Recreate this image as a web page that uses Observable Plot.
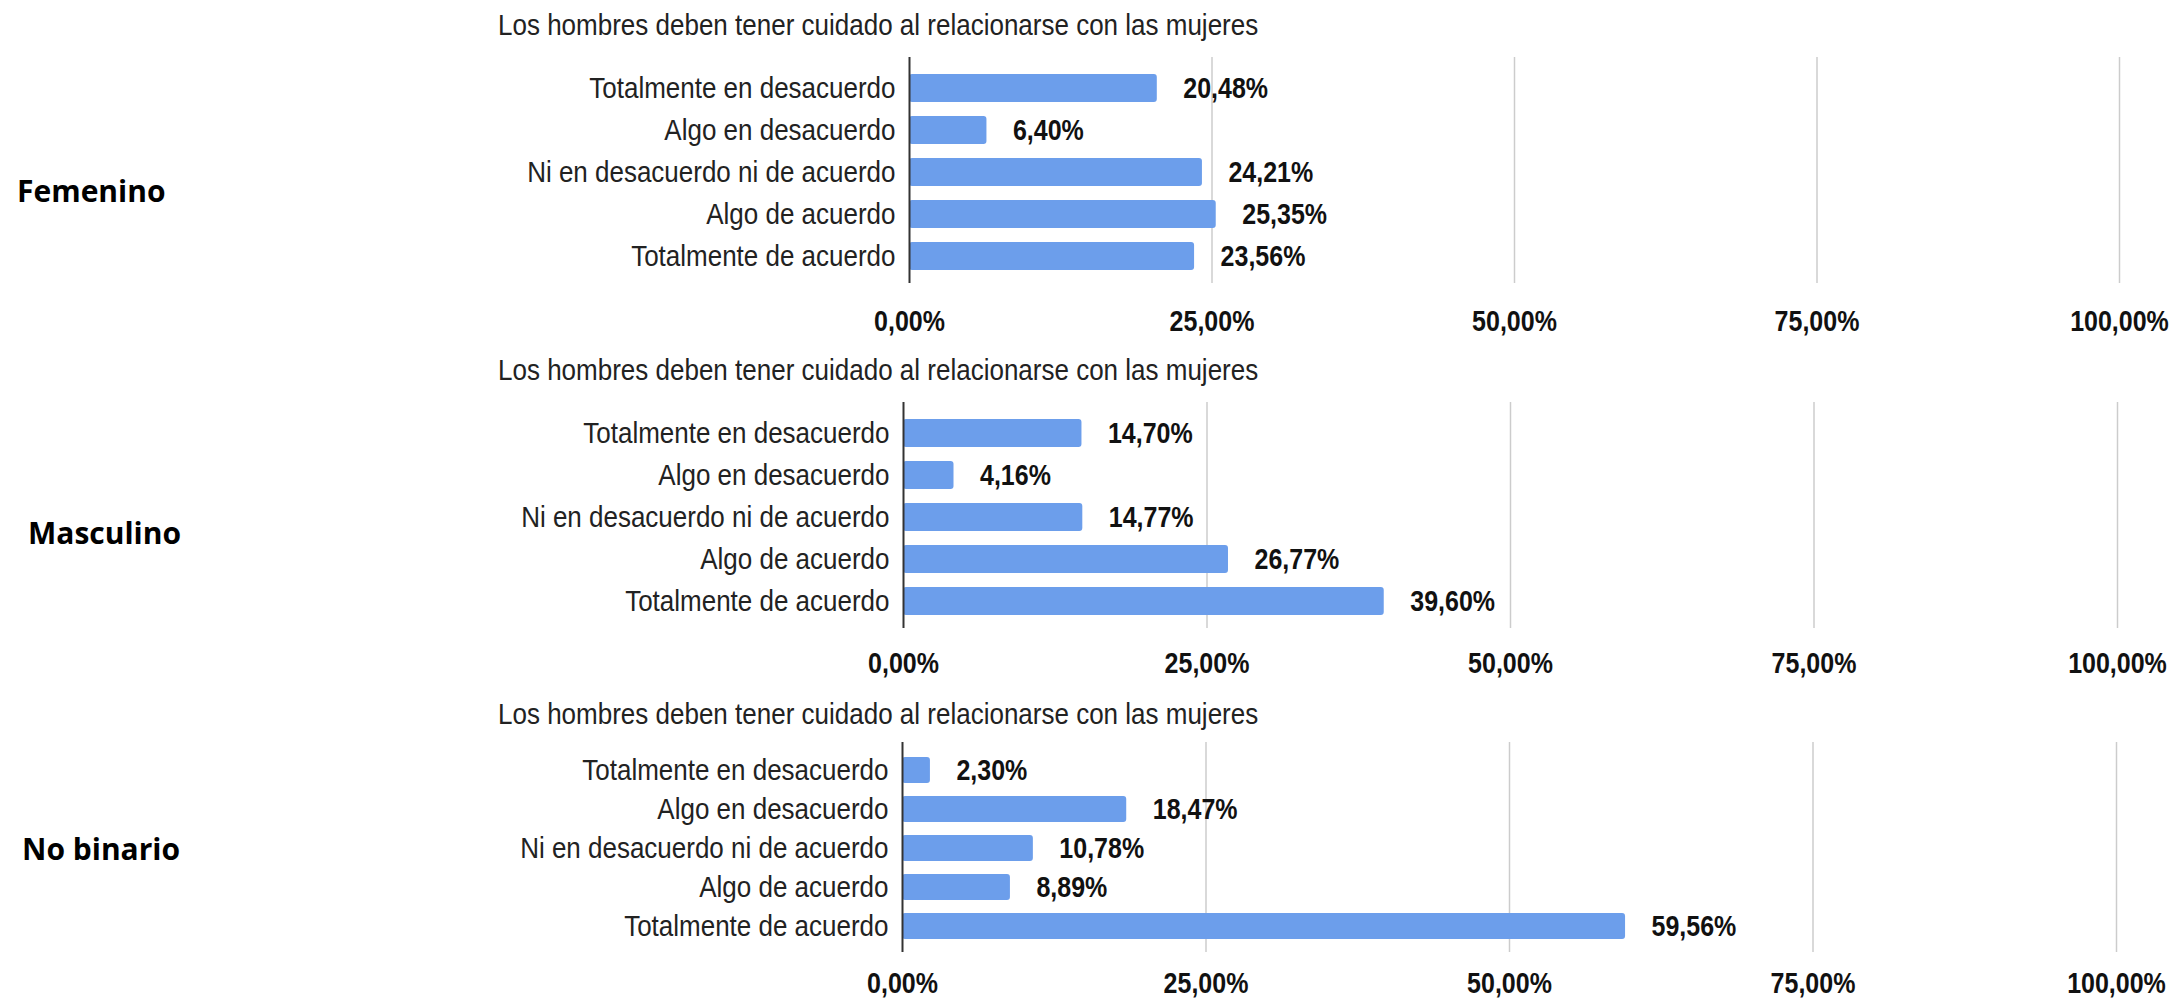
<!DOCTYPE html>
<html>
<head>
<meta charset="utf-8">
<script src="https://cdn.jsdelivr.net/npm/d3@7"></script>
<script src="https://cdn.jsdelivr.net/npm/@observablehq/plot@0.6"></script>
<style>
  html, body { margin: 0; padding: 0; background: #fff; overflow: hidden; }
  #root { position: relative; width: 2170px; height: 998px; background: #fff; }
  .panel { position: absolute; left: 0; }
  .title { position: absolute; font-family: 'Liberation Sans', Arial, sans-serif; font-size: 26px; line-height: 1; color: #222; white-space: nowrap; transform: scaleY(1.15); transform-origin: 0 50%; }
  .group { position: absolute; font-family: 'Open Sans', sans-serif; font-weight: 700; font-size: 30px; line-height: 1; color: #000; white-space: nowrap; }
</style>
</head>
<body>
<div id="root"></div>
<script>
// ---- data ----
const categories = ["Totalmente en desacuerdo", "Algo en desacuerdo", "Ni en desacuerdo ni de acuerdo", "Algo de acuerdo", "Totalmente de acuerdo"];
const groups = ["Femenino", "Masculino", "No binario"];
const femenino = [20.48, 6.40, 24.21, 25.35, 23.56];
const masculino = [14.70, 4.16, 14.77, 26.77, 39.60];
const noBinario = [2.30, 18.47, 10.78, 8.89, 59.56];
const chartTitle = "Los hombres deben tener cuidado al relacionarse con las mujeres";
const xTicks = [0, 25, 50, 75, 100];
const xTickLabels = ["0,00%", "25,00%", "50,00%", "75,00%", "100,00%"];

const seriesByGroup = [femenino, masculino, noBinario];

// ---- layout (styles only) ----
const layouts = [
  {top: 45,  height: 300, ml: 909, mr: 51, mt: 12, mb: 62, pi: 0.345, po: 0.316, align: 0.556, tickPad: 28, titleTop: 12,  labelTop: 176, labelLeft: 17},
  {top: 390, height: 300, ml: 903, mr: 53, mt: 12, mb: 62, pi: 0.345, po: 0.316, align: 0.556, tickPad: 25, titleTop: 357, labelTop: 518, labelLeft: 28},
  {top: 730, height: 268, ml: 902, mr: 54, mt: 12, mb: 46, pi: 0.342, po: 0.329, align: 0.54,  tickPad: 21, titleTop: 701, labelTop: 834, labelLeft: 22}
];
const textStretch = 1.15;

const fmt = v => v.toFixed(2).replace(".", ",") + "%";
const tickFmt = d => xTickLabels[xTicks.indexOf(d)];
const root = document.getElementById("root");

groups.forEach((g, i) => {
  const L = layouts[i];
  const data = categories.map((c, k) => ({category: c, value: seriesByGroup[i][k]}));

  const chart = Plot.plot({
    width: 2170,
    height: L.height,
    marginLeft: L.ml,
    marginRight: L.mr,
    marginTop: L.mt,
    marginBottom: L.mb,
    style: {fontFamily: "'Liberation Sans', Arial, sans-serif", background: "transparent", overflow: "visible"},
    x: {domain: [0, 100], label: null},
    y: {domain: categories, paddingInner: L.pi, paddingOuter: L.po, align: L.align, label: null},
    marks: [
      Plot.ruleX(xTicks.filter(d => d > 0), {stroke: "#cccccc", strokeWidth: 1.5}),
      Plot.barX(data, {x: "value", y: "category", fill: "#6c9eeb", rx: 3}),
      Plot.ruleX([0], {stroke: "#333333", strokeWidth: 2}),
      Plot.axisX({ticks: xTicks, tickFormat: tickFmt, tickSize: 0, tickPadding: L.tickPad, fontSize: 25, fontWeight: "bold", fill: "#111", label: null}),
      Plot.axisY({tickSize: 0, tickPadding: 14, fontSize: 26, fill: "#222", label: null}),
      Plot.text(data, {x: "value", y: "category", text: d => fmt(d.value), textAnchor: "start", dx: 26, fontSize: 25, fontWeight: "bold", fill: "#111"})
    ]
  });
  const wrap = document.createElement("div");
  wrap.className = "panel";
  wrap.style.top = L.top + "px";
  wrap.appendChild(chart);
  root.appendChild(wrap);

  // stretch text vertically around its own centre (the reference's lettering is taller)
  chart.querySelectorAll("text").forEach(t => {
    const b = t.getBBox();
    const cy = b.y + b.height / 2;
    const prev = t.getAttribute("transform") || "";
    t.setAttribute("transform", `${prev} translate(0,${cy}) scale(1,${textStretch}) translate(0,${-cy})`.trim());
  });

  const t = document.createElement("div");
  t.className = "title";
  t.style.left = "498px";
  t.style.top = L.titleTop + "px";
  t.textContent = chartTitle;
  root.appendChild(t);

  const gl = document.createElement("div");
  gl.className = "group";
  gl.style.left = L.labelLeft + "px";
  gl.style.top = L.labelTop + "px";
  gl.textContent = g;
  root.appendChild(gl);
});
</script>
</body>
</html>
